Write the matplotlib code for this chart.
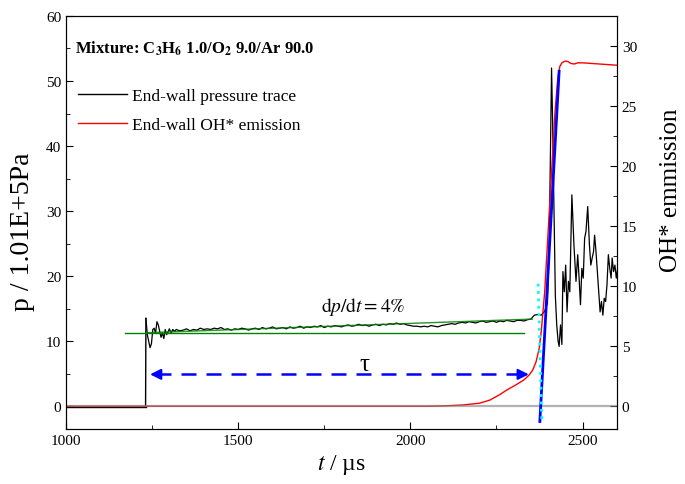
import numpy as np
import matplotlib
matplotlib.use("Agg")
import matplotlib.pyplot as plt
from matplotlib.lines import Line2D
from matplotlib.ticker import MultipleLocator

plt.rcParams['font.family'] = ['Liberation Serif', 'DejaVu Serif']
plt.rcParams['mathtext.fontset'] = 'stix'

# end-wall pressure trace (p / 1.01E+5 Pa)
t_pre = [1000, 1231]
p_pre = [-0.15, -0.15]

t_jump = [1232, 1236, 1240, 1244, 1248, 1252, 1256, 1260, 1264, 1268, 1272, 1276,
          1280, 1284, 1288, 1292, 1296, 1300, 1305, 1310, 1315]
p_jump = [13.5, 11.0, 10.0, 9.0, 9.6, 11.8, 12.0, 11.2, 13.0, 12.5, 11.5, 10.6,
          11.3, 10.4, 11.8, 11.0, 11.4, 11.9, 11.3, 11.8, 11.5]

t_mid = np.arange(1320, 2351, 10)
p_mid = [11.8, 11.6, 11.7, 11.9, 11.6, 11.8, 11.7, 12.0, 11.8, 11.9,
         11.8, 12.0, 11.9, 12.1, 11.8, 11.9, 11.7, 11.9, 11.8, 12.0,
         11.9, 11.7, 11.9, 12.0, 11.8, 12.1, 11.9, 12.0, 12.2, 11.9,
         12.0, 12.1, 11.9, 12.2, 12.0, 12.1, 12.3, 12.0, 12.2, 12.1,
         12.3, 12.2, 12.4, 12.1, 12.3, 12.2, 12.4, 12.3, 12.2, 12.4,
         12.5, 12.3, 12.4, 12.6, 12.4, 12.5, 12.3, 12.5, 12.6, 12.4,
         12.6, 12.5, 12.7, 12.6, 12.8, 12.6, 12.7, 12.5, 12.4, 12.3,
         12.3, 12.2, 12.3, 12.2, 12.4, 12.3, 12.2, 12.4, 12.5, 12.6,
         12.7, 12.6, 12.8, 12.9, 12.8, 13.0, 12.9, 12.8, 13.0, 13.1,
         12.9, 13.0, 13.1, 12.9, 13.1, 13.0, 13.2, 13.1, 13.0, 13.2,
         13.2, 13.1, 13.3, 13.4]

t_ign = [2360, 2370, 2380, 2390, 2398, 2403, 2407, 2410, 2413, 2417, 2421, 2425,
         2429, 2432, 2436, 2440, 2443, 2447, 2451, 2455, 2459, 2463, 2469, 2475,
         2481, 2486, 2490, 2494, 2498, 2502, 2506, 2510, 2515, 2520, 2524, 2528,
         2532, 2535, 2539, 2543, 2547, 2551, 2555, 2559, 2563, 2567, 2571, 2575,
         2579, 2583, 2586, 2590, 2594, 2598, 2602]
p_ign = [14.0, 14.1, 14.0, 14.6, 15.8, 24.0, 40.0, 52.0, 44.0, 30.0, 17.0, 12.5,
         10.0, 9.2, 12.5, 9.5, 20.7, 17.6, 21.7, 14.5, 19.2, 17.6, 32.5, 24.8,
         19.2, 23.3, 19.7, 15.6, 21.2, 19.7, 25.8, 26.9, 30.7, 24.8, 21.7, 22.8,
         23.8, 26.3, 23.8, 20.7, 17.6, 14.5, 16.1, 14.0, 16.6, 16.1, 18.7, 23.3,
         21.2, 19.7, 22.8, 20.7, 21.7, 19.7, 21.2]

# end-wall OH* emission (right axis)
t_oh = [1000, 2050, 2100, 2150, 2200, 2230, 2258, 2280, 2306, 2330, 2345, 2355,
        2365, 2374, 2380, 2390, 2400, 2410, 2420, 2428, 2434, 2440, 2450, 2458,
        2466, 2476, 2486, 2500, 2550, 2600]
oh = [0, 0, 0.03, 0.1, 0.25, 0.5, 0.94, 1.35, 1.77, 2.2, 2.6, 3.0,
      3.7, 4.8, 6.2, 9.5, 14.5, 19.5, 24.5, 27.3, 28.3, 28.6, 28.75, 28.7,
      28.55, 28.5, 28.6, 28.6, 28.5, 28.4]

# fitted lines
t_flat = [1172, 2330]
p_flat = [11.3, 11.3]
t_slope = [1233, 2354]
p_slope = [11.3, 13.4]
t_tan = [2376, 2432]
oh_tan = [-1.27, 27.9]
t_cut = [2371, 2382]
oh_cut = [10.2, -1.4]
tau_start, tau_end, tau_p = 1236, 2352, 4.9

fig = plt.figure(figsize=(6.85, 4.85), dpi=100)
ax = fig.add_axes([0.0964, 0.1134, 0.9007 - 0.0964, 0.965 - 0.1134])

t_p = list(t_jump) + list(t_mid) + list(t_ign)
p_p = list(p_jump) + list(p_mid) + list(p_ign)
ax.plot(t_pre, p_pre, color='black', lw=1)
ax.plot([t_pre[-1], t_jump[0]], [p_pre[-1], p_jump[0]], color='black', lw=1)
ax.plot(t_p, p_p, color='black', lw=0.9)
ax.plot(t_flat, p_flat, color='green', lw=1)
ax.plot(t_slope, p_slope, color='green', lw=1, alpha=0.85)

ax.set_xlim(1000, 2600)
ax.set_ylim(-3.5, 60)
ax.xaxis.set_major_locator(MultipleLocator(500))
ax.xaxis.set_minor_locator(MultipleLocator(250))
ax.yaxis.set_major_locator(MultipleLocator(10))
ax.yaxis.set_minor_locator(MultipleLocator(5))
ax.tick_params(which='both', direction='in', labelsize=11, top=False, right=False)
ax.tick_params(which='major', length=5)
ax.tick_params(which='minor', length=3)
ax.set_xlabel(r'$t$ / µs', fontsize=17, labelpad=4)
ax.set_ylabel('p / 1.01E+5Pa', fontsize=20)
ax.yaxis.set_label_coords(-0.056, 0.48)

# tau arrow
ax.plot([tau_start + 25, tau_end - 25], [tau_p, tau_p], color='blue', lw=1.8,
        dashes=(6, 4))
ax.annotate('', xy=(tau_start, tau_p), xytext=(tau_start + 30, tau_p),
            arrowprops=dict(arrowstyle='-|>', color='blue', lw=1.5, mutation_scale=16))
ax.annotate('', xy=(tau_end, tau_p), xytext=(tau_end - 30, tau_p),
            arrowprops=dict(arrowstyle='-|>', color='blue', lw=1.5, mutation_scale=16))
ax.text(1867, 6.5, 'τ', fontsize=18, ha='center', va='center')
ax.text(1864, 15.4, r'$\mathrm{d}p/\mathrm{d}t = 4\%$', fontsize=14,
        ha='center', va='center')

ax.text(0.016, 0.922, r'Mixture: C$_\mathbf{3}$H$_\mathbf{6}$ 1.0/O$_\mathbf{2}$ 9.0/Ar 90.0',
        transform=ax.transAxes, fontsize=12, fontweight='bold', va='center')

ax2 = ax.twinx()
ax2.plot(t_oh, oh, color='red', lw=1)
ax2.axhline(0, color='gray', lw=1.6, alpha=0.6)
ax2.plot(t_tan, oh_tan, color='blue', lw=2)
ax2.plot(t_cut, oh_cut, color='cyan', lw=2, linestyle=':')
ax2.set_ylim(-3.5 * 0.5417, 60 * 0.5417)
ax2.yaxis.set_major_locator(MultipleLocator(5))
ax2.yaxis.set_minor_locator(MultipleLocator(2.5))
ax2.tick_params(which='both', direction='in', labelsize=11)
ax2.tick_params(which='major', length=5)
ax2.tick_params(which='minor', length=3)
ax2.set_ylabel('OH* emmission', fontsize=18)
ax2.yaxis.set_label_coords(1.078, 0.58)

handles = [Line2D([], [], color='black', lw=1), Line2D([], [], color='red', lw=1)]
ax.legend(handles, ['End-wall pressure trace', 'End-wall OH* emission'],
          loc='upper left', bbox_to_anchor=(0.0, 0.856), frameon=False,
          fontsize=12.5, handlelength=2.8, handletextpad=0.3, labelspacing=0.75,
          borderaxespad=0.3)

fig.savefig('out.png', dpi=100)
